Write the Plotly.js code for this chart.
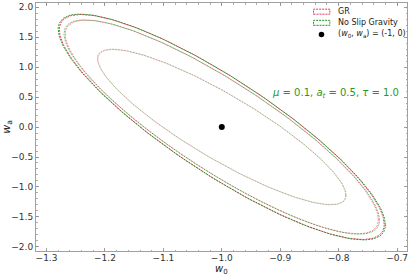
<!DOCTYPE html>
<html>
<head>
<meta charset="utf-8">
<script src="https://cdn.plot.ly/plotly-3.0.1.min.js"></script>
<style>html,body{margin:0;padding:0;background:#fff;}#chart{width:411px;height:276px;}</style>
</head>
<body>
<div id="chart"></div>
<script>
// Fiducial point
const fiducialW0 = -1.0;
const fiducialWa = 0.0;
// Contour levels (outer, middle, inner): half-extent in w0, half-extent in wa, correlation
const levelNames = ['outer', 'middle', 'inner'];
const grHalfW0 = [0.278, 0.268, 0.212];
const grHalfWa = [1.875, 1.780, 1.293];
const grRho = [-0.865, -0.868, -0.878];
const nsgHalfW0 = [0.280, 0.270, 0.213];
const nsgHalfWa = [1.882, 1.787, 1.298];
const nsgRho = [-0.866, -0.869, -0.879];
const levelOpacity = [0.95, 0.6, 0.4];
const xTickLabels = ['−1.3', '−1.2', '−1.1', '−1.0', '−0.9', '−0.8', '−0.7'];
const xTickVals = [-1.3, -1.2, -1.1, -1.0, -0.9, -0.8, -0.7];
const yTickVals = [-2.0, -1.5, -1.0, -0.5, 0.0, 0.5, 1.0, 1.5, 2.0];
const yTickLabels = ['−2.0', '−1.5', '−1.0', '−0.5', '0.0', '0.5', '1.0', '1.5', '2.0'];

function ellipse(cx, cy, a, b, rho) {
  const xs = [], ys = [];
  const n = 240;
  const s = Math.sqrt(1 - rho * rho);
  for (let i = 0; i <= n; i++) {
    const t = 2 * Math.PI * i / n;
    xs.push(cx + a * Math.cos(t));
    ys.push(cy + b * (rho * Math.cos(t) + s * Math.sin(t)));
  }
  return {xs, ys};
}

const red = [230, 40, 80];
const green = [20, 140, 20];
function rgba(c, a) { return 'rgba(' + c[0] + ',' + c[1] + ',' + c[2] + ',' + a + ')'; }

const traces = [];
for (let i = 0; i < levelNames.length; i++) {
  const g = ellipse(fiducialW0, fiducialWa, grHalfW0[i], grHalfWa[i], grRho[i]);
  traces.push({x: g.xs, y: g.ys, mode: 'lines', name: 'GR', showlegend: false,
    line: {color: rgba(red, levelOpacity[i]), width: 0.9, dash: '2px,1px'}, hoverinfo: 'skip'});
  const n = ellipse(fiducialW0, fiducialWa, nsgHalfW0[i], nsgHalfWa[i], nsgRho[i]);
  traces.push({x: n.xs, y: n.ys, mode: 'lines', name: 'No Slip Gravity', showlegend: false,
    line: {color: rgba(green, levelOpacity[i]), width: 0.9, dash: '2px,1px'}, hoverinfo: 'skip'});
}
traces.push({x: [fiducialW0], y: [fiducialWa], mode: 'markers', showlegend: false,
  marker: {color: 'black', size: 6}, hoverinfo: 'skip'});

const font = {family: 'DejaVu Sans', size: 9, color: '#333'};
const axisCommon = {
  showgrid: false, zeroline: false, showline: true, linecolor: '#a0a0a0', linewidth: 1,
  mirror: 'allticks', ticks: 'inside', ticklen: 3, tickcolor: '#888', tickwidth: 0.8,
  tickfont: font, automargin: false
};

const layout = {
  width: 411, height: 276,
  margin: {l: 36, r: 4, t: 3, b: 25},
  paper_bgcolor: '#fff', plot_bgcolor: '#fff',
  showlegend: false,
  font: font,
  xaxis: Object.assign({}, axisCommon, {
    range: [-1.318, -0.683],
    tickvals: xTickVals, ticktext: xTickLabels, ticklabelstandoff: -2,
    minor: {dtick: 0.02, ticks: 'inside', ticklen: 1.5, tickcolor: '#999', tick0: -1.3}
  }),
  yaxis: Object.assign({}, axisCommon, {
    range: [-2.067, 2.067],
    tickvals: yTickVals, ticktext: yTickLabels,
    minor: {dtick: 0.1, ticks: 'inside', ticklen: 1.5, tickcolor: '#999', tick0: 0},
    title: {text: '<i>w</i><sub>a</sub>', font: {family: 'DejaVu Sans', size: 11, color: '#222'}, standoff: 2}
  }),
  shapes: [
    {type: 'rect', xref: 'paper', yref: 'paper', x0: 0.748, x1: 0.792, y0: 0.955, y1: 0.975,
      line: {color: rgba(red, 0.95), width: 1, dash: '2px,1px'}, fillcolor: 'rgba(0,0,0,0)'},
    {type: 'rect', xref: 'paper', yref: 'paper', x0: 0.748, x1: 0.792, y0: 0.910, y1: 0.930,
      line: {color: rgba(green, 0.95), width: 1, dash: '2px,1px'}, fillcolor: 'rgba(0,0,0,0)'},
    {type: 'circle', xref: 'paper', yref: 'paper', x0: 0.762, x1: 0.777, y0: 0.862, y1: 0.884,
      line: {color: 'black', width: 0}, fillcolor: 'black'}
  ],
  annotations: [
    {xref: 'paper', yref: 'paper', x: 0.5, y: -0.074, text: '<i>w</i><sub>0</sub>', showarrow: false,
      xanchor: 'center', yanchor: 'middle', font: {family: 'DejaVu Sans', size: 10, color: '#222'}},
    {xref: 'paper', yref: 'paper', x: 0.808, y: 0.965, text: 'GR', showarrow: false,
      xanchor: 'left', yanchor: 'middle', font: {family: 'DejaVu Sans', size: 8, color: '#222'}},
    {xref: 'paper', yref: 'paper', x: 0.808, y: 0.920, text: 'No Slip Gravity', showarrow: false,
      xanchor: 'left', yanchor: 'middle', font: {family: 'DejaVu Sans', size: 8, color: '#222'}},
    {xref: 'paper', yref: 'paper', x: 0.808, y: 0.873, text: '(<i>w</i><sub>0</sub>, <i>w</i><sub>a</sub>) = (-1, 0)', showarrow: false,
      xanchor: 'left', yanchor: 'middle', font: {family: 'DejaVu Sans', size: 8, color: '#222'}},
    {xref: 'paper', yref: 'paper', x: 0.985, y: 0.637, text: '<i>μ</i> = 0.1, <i>a</i><sub><i>t</i></sub> = 0.5, <i>τ</i> = 1.0', showarrow: false,
      xanchor: 'right', yanchor: 'middle', font: {family: 'DejaVu Sans', size: 10, color: '#1f9a1f'}}
  ]
};

Plotly.newPlot('chart', traces, layout, {staticPlot: true, displayModeBar: false});
</script>
</body>
</html>
